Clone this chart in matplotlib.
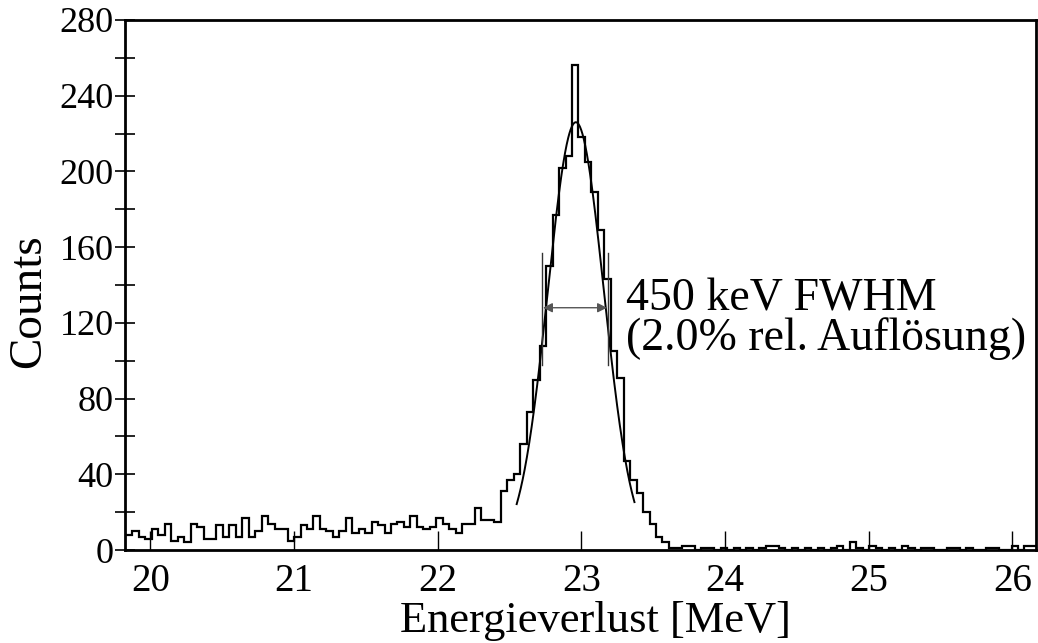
import numpy as np
import matplotlib.pyplot as plt

plt.rcParams['font.family'] = ['Liberation Serif', 'DejaVu Serif']

# histogram: 0.045 MeV channels starting at 19.83 MeV
bin_start = 19.83
bin_width = 0.045
counts = [
    8, 10, 7, 6, 11, 8, 14, 5, 7, 4,
    14, 12, 6, 6, 13, 7, 13, 7, 17, 7,
    10, 18, 14, 11, 11, 5, 7, 13, 11, 18,
    11, 10, 7, 10, 17, 9, 11, 9, 15, 13,
    9, 14, 15, 12, 18, 12, 11, 12, 17, 14,
    11, 9, 14, 14, 22, 16, 16, 15,
    31, 37, 40, 56, 73, 90, 108, 150, 177, 202,
    208, 256, 218, 205, 189, 169, 143, 105, 91, 47,
    37, 30, 20, 14, 7, 4, 1,
    1, 2, 2, 0, 1, 1, 0, 1, 0, 1,
    0, 1, 0, 1, 2, 2, 1, 0, 1, 0,
    1, 0, 1, 0, 1, 2, 0, 4, 1, 0,
    2, 1, 0, 1, 0, 2, 1, 0, 1, 1,
    0, 0, 1, 1, 0, 1, 0, 0, 1, 1,
    0, 0, 2, 0, 2, 2,
]
edges = bin_start + bin_width * np.arange(len(counts) + 1)

# gaussian fit
fit_amp = 226.0
fit_mu = 22.962
fit_sigma = 0.195
fit_range = (22.55, 23.37)

# FWHM marker
fwhm_lo, fwhm_hi = 22.723, 23.189
fwhm_y = 128
marker_ylo, marker_yhi = 98, 157

fig = plt.figure(figsize=(10.38, 6.43), dpi=100)
ax = fig.add_axes([0.1204, 0.1446, 0.8776, 0.8243])

ax.stairs(counts, edges, baseline=None, color='black', lw=1.6)

xf = np.linspace(fit_range[0], fit_range[1], 300)
yf = fit_amp * np.exp(-0.5 * ((xf - fit_mu) / fit_sigma) ** 2)
ax.plot(xf, yf, color='black', lw=1.4)

for xm in (fwhm_lo, fwhm_hi):
    ax.plot([xm, xm], [marker_ylo, marker_yhi], color='#333333', lw=1.0)
ax.annotate('', xy=(fwhm_lo + 0.01, fwhm_y), xytext=(fwhm_hi - 0.01, fwhm_y),
            arrowprops=dict(arrowstyle='<|-|>', color='#555555', lw=1.0,
                            mutation_scale=14, shrinkA=0, shrinkB=0))
ax.text(23.31, 126.5, '450 keV FWHM', fontsize=33, ha='left', va='baseline')
ax.text(23.31, 105.5, '(2.0% rel. Auflösung)', fontsize=33, ha='left', va='baseline')

ax.set_xlim(19.823, 26.165)
ax.set_ylim(0, 280)
ax.set_xticks(np.arange(20, 27, 1))
ax.set_yticks(np.arange(0, 281, 40))
ax.set_yticks(np.arange(20, 280, 40), minor=True)
ax.tick_params(axis='x', direction='in', length=14, width=1.0, labelsize=28, pad=9,
               top=False)
ax.tick_params(axis='y', which='both', direction='inout', length=14, width=1.2,
               labelsize=26, pad=1)
for s in ax.spines.values():
    s.set_linewidth(2.0)

ax.set_xlabel('Energieverlust [MeV]', fontsize=32)
ax.xaxis.set_label_coords(0.517, -0.097, transform=ax.transAxes)
ax.xaxis.label.set_va('top')
ax.set_ylabel('Counts', fontsize=34)
ax.yaxis.set_label_coords(-0.082, 0.47, transform=ax.transAxes)

fig.savefig('out.png', dpi=100)
